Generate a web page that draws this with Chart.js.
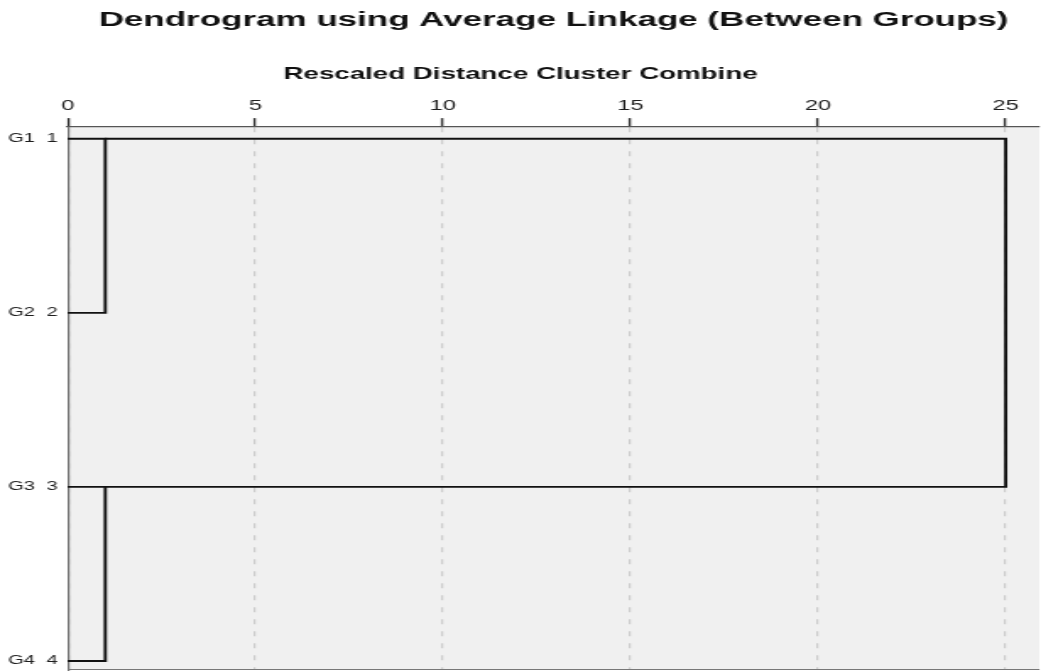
<!DOCTYPE html>
<html>
<head>
<meta charset="utf-8">
<script src="https://cdn.jsdelivr.net/npm/chart.js@4.4.1/dist/chart.umd.min.js"></script>
<style>
    html, body { margin: 0; padding: 0; background: #ffffff; overflow: hidden; }
    /* the reference is stretched sideways, so the chart is drawn narrow and scaled */
    #wrap { width: 616px; height: 672px; transform: scaleX(1.69); transform-origin: 0 0; }
</style>
</head>
<body>
<div id="wrap"><canvas id="dendro"></canvas></div>
<script>
// Cases, top to bottom
const caseNames = ['G1', 'G2', 'G3', 'G4'];
const caseNumbers = [1, 2, 3, 4];

// Agglomeration steps: the two clusters joined (by their top case) and the rescaled distance
const mergeFirst = [1, 3, 1];
const mergeSecond = [2, 4, 3];
const mergeDistance = [1, 1, 25];

// Distance axis ticks
const distanceTicks = [0, 5, 10, 15, 20, 25];

// Build one bracket line per merge
function buildBrackets() {
    const lastX = {};
    caseNumbers.forEach(n => { lastX[n] = 0; });
    return mergeDistance.map((d, i) => {
        const a = mergeFirst[i];
        const b = mergeSecond[i];
        const pts = [
            { x: lastX[a], y: a },
            { x: d, y: a },
            { x: d, y: b },
            { x: lastX[b], y: b }
        ];
        lastX[a] = d;
        return {
            data: pts,
            showLine: true,
            borderColor: '#111111',
            borderWidth: 1.9,
            pointRadius: 0,
            borderJoinStyle: 'miter',
            tension: 0,
            clip: false
        };
    });
}

// Grey plot background and the bottom frame line
const plotFrame = {
    id: 'plotFrame',
    beforeDraw(chart) {
        const { ctx, chartArea: a } = chart;
        ctx.save();
        ctx.fillStyle = '#f0f0f0';
        ctx.fillRect(a.left, a.top, a.right - a.left, a.bottom - a.top);
        ctx.restore();
    },
    afterDraw(chart) {
        const { ctx, chartArea: a } = chart;
        ctx.save();
        ctx.setLineDash([]);
        ctx.strokeStyle = '#777777';
        ctx.lineWidth = 1.2;
        ctx.beginPath();
        ctx.moveTo(a.left, a.bottom - 0.5);
        ctx.lineTo(a.right, a.bottom - 0.5);
        ctx.stroke();
        ctx.restore();
    }
};

new Chart(document.getElementById('dendro'), {
    type: 'scatter',
    data: { datasets: buildBrackets() },
    plugins: [plotFrame],
    options: {
        responsive: true,
        maintainAspectRatio: false,
        animation: false,
        devicePixelRatio: 1,
        layout: { padding: { top: 0, right: 0, bottom: 2, left: 0 } },
        plugins: {
            legend: { display: false },
            tooltip: { enabled: false },
            title: {
                display: true,
                text: 'Dendrogram using Average Linkage (Between Groups)',
                fullSize: false,
                color: '#111111',
                font: { family: '"Liberation Sans", Arial, sans-serif', size: 20.7, weight: 'bold' },
                padding: { top: 8, bottom: 0 }
            },
            subtitle: {
                display: true,
                text: 'Rescaled Distance Cluster Combine',
                color: '#111111',
                font: { family: '"Liberation Sans", Arial, sans-serif', size: 16.4, weight: 'bold' },
                padding: { top: 32, bottom: 14 }
            }
        },
        scales: {
            x: {
                type: 'linear',
                position: 'top',
                min: 0,
                max: 25.9,
                afterBuildTicks: scale => {
                    scale.ticks = distanceTicks.map(v => ({ value: v }));
                },
                afterFit: scale => {
                    scale.height = 28.6;
                    scale.paddingLeft = 0;
                    scale.paddingRight = 0;
                },
                ticks: {
                    color: '#1e1e1e',
                    padding: 4,
                    maxRotation: 0,
                    font: { family: '"Liberation Sans", Arial, sans-serif', size: 14 }
                },
                grid: {
                    color: '#cdcdcd',
                    lineWidth: 1.2,
                    drawTicks: true,
                    tickLength: 9,
                    tickColor: '#333333',
                    tickWidth: 1.4,
                    tickBorderDash: []
                },
                border: { display: true, color: '#555555', width: 1.3, dash: [5, 7] }
            },
            y: {
                type: 'linear',
                reverse: true,
                min: 0.933,
                max: 4.052,
                afterBuildTicks: scale => {
                    scale.ticks = caseNumbers.map(v => ({ value: v }));
                },
                afterFit: scale => {
                    scale.width = 40.1;
                    scale.paddingTop = 0;
                    scale.paddingBottom = 0;
                },
                ticks: {
                    color: '#1e1e1e',
                    padding: 6,
                    font: { family: '"Liberation Sans", Arial, sans-serif', size: 12 },
                    callback: value => caseNames[caseNumbers.indexOf(value)] + '  ' + value
                },
                grid: { display: true, drawOnChartArea: false, drawTicks: false },
                border: { display: true, color: '#777777', width: 1.2 }
            }
        }
    }
});
</script>
</body>
</html>
